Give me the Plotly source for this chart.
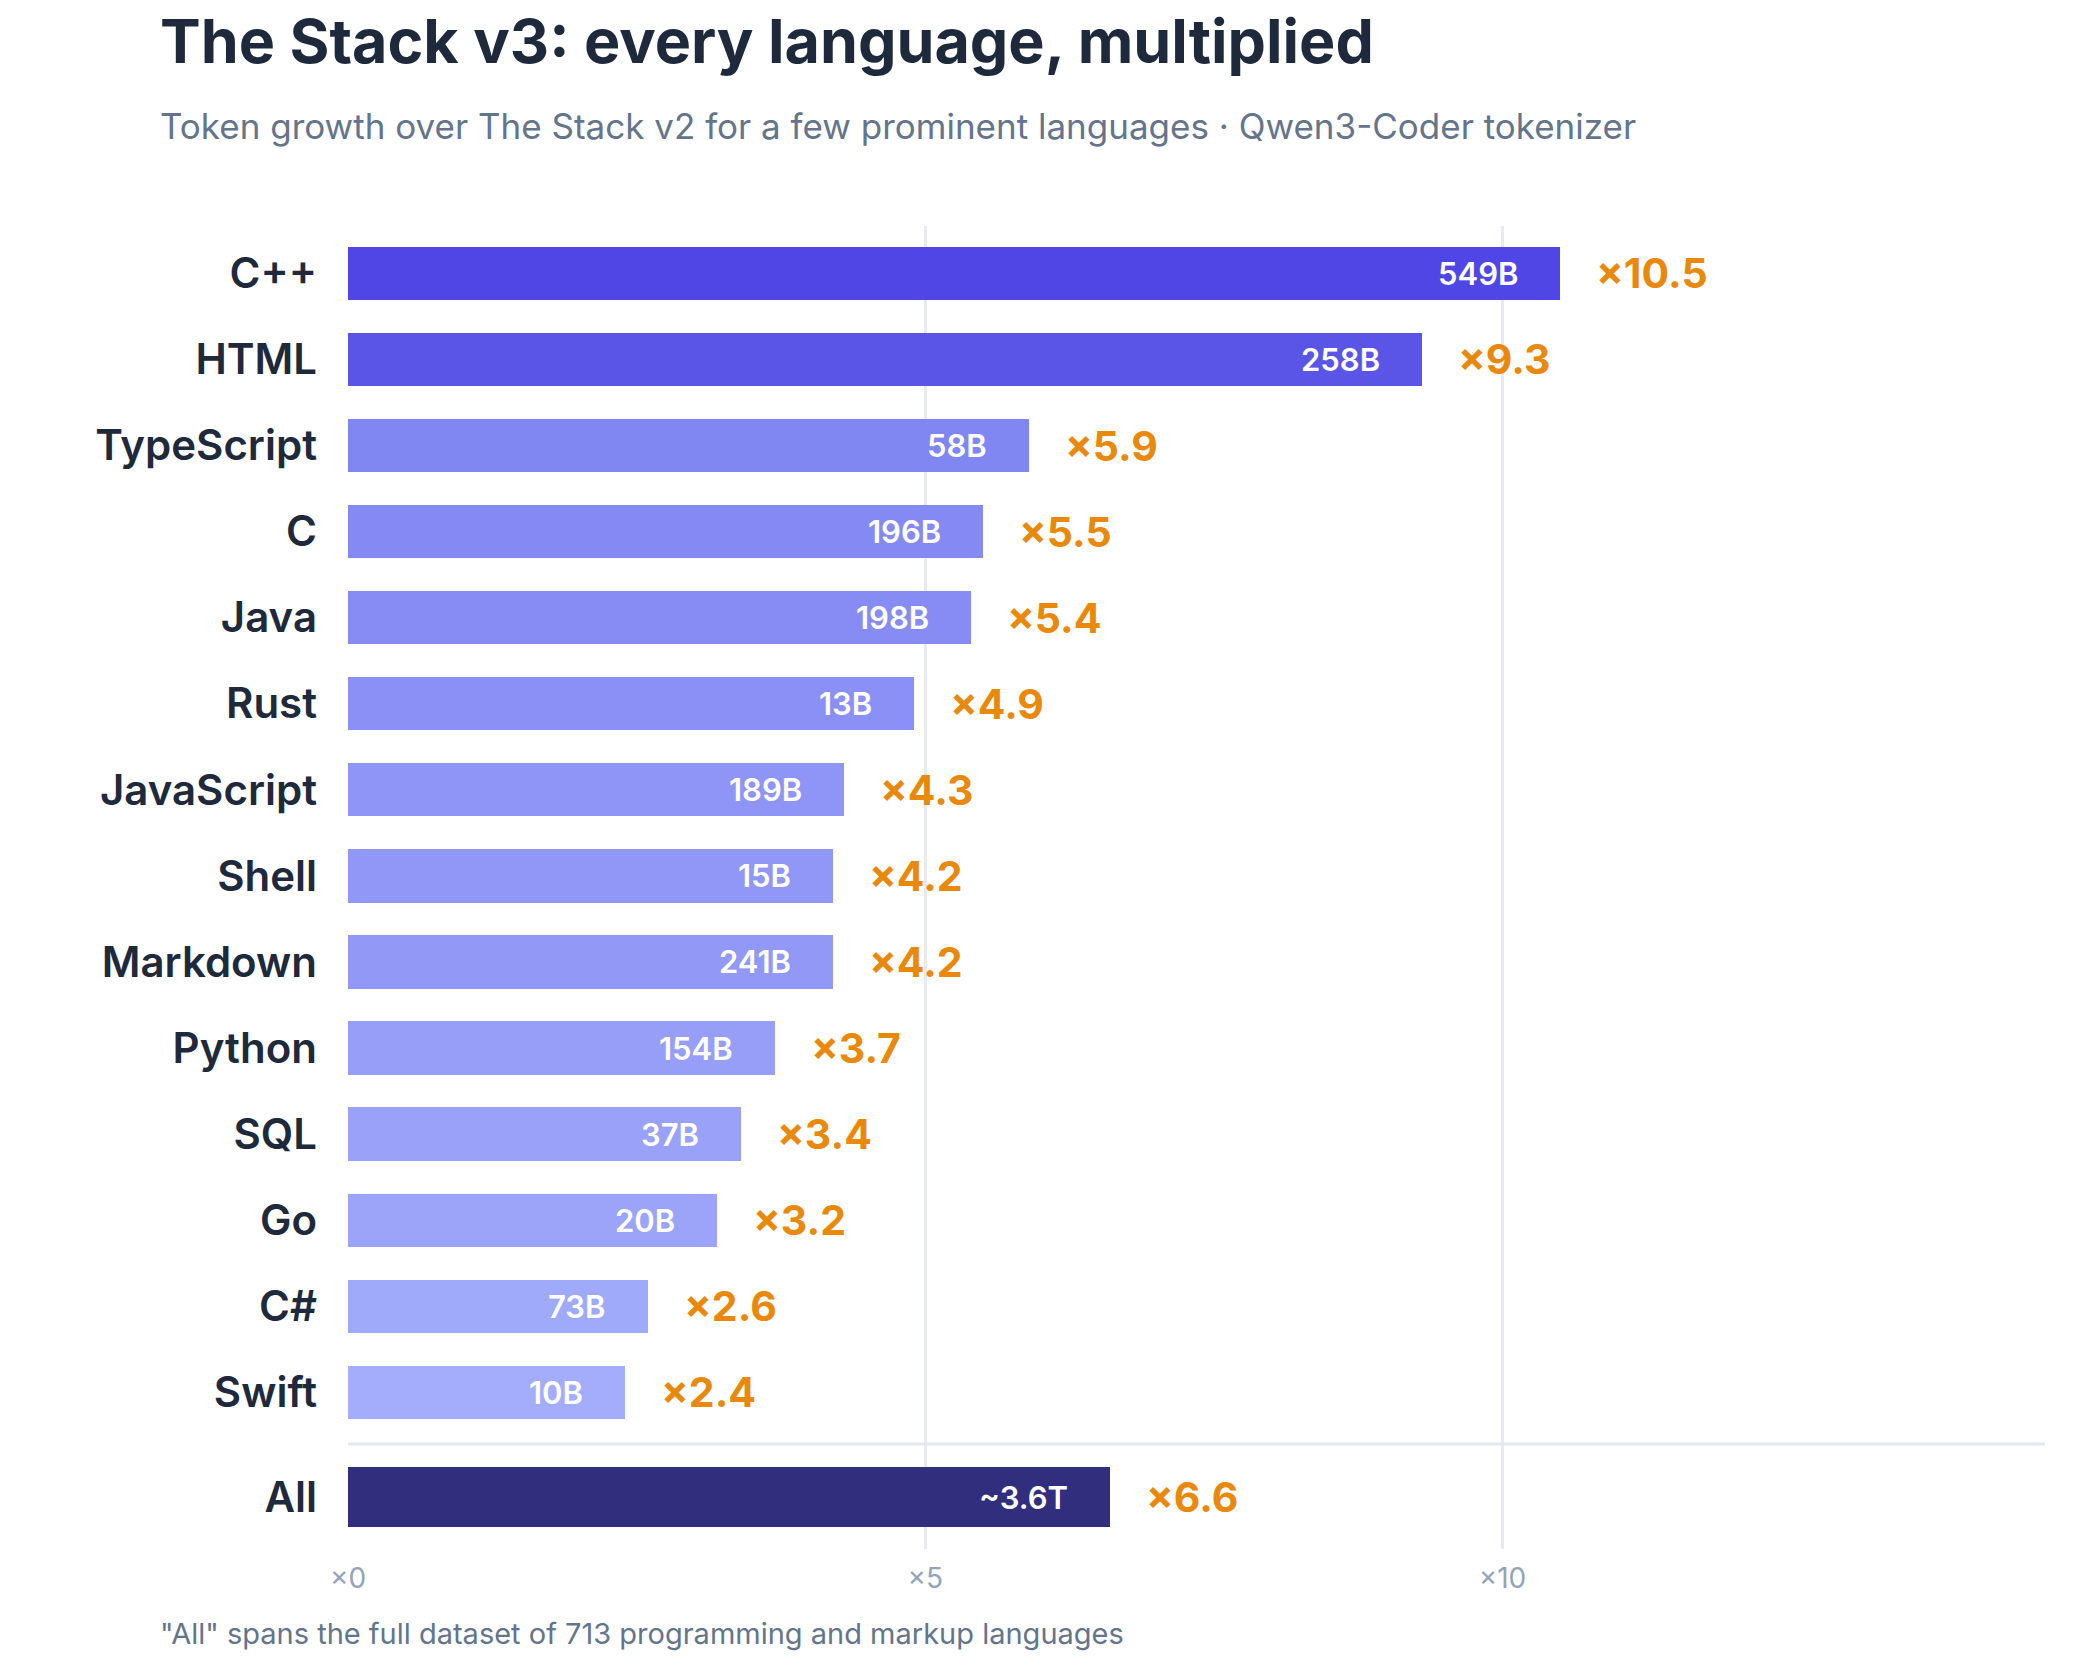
import plotly.graph_objects as go

# Data
languages = ["C++", "HTML", "TypeScript", "C", "Java", "Rust", "JavaScript", "Shell",
             "Markdown", "Python", "SQL", "Go", "C#", "Swift"]
growth = [10.5, 9.3, 5.9, 5.5, 5.4, 4.9, 4.3, 4.2, 4.2, 3.7, 3.4, 3.2, 2.6, 2.4]
tokens = ["549B", "258B", "58B", "196B", "198B", "13B", "189B", "15B", "241B",
          "154B", "37B", "20B", "73B", "10B"]
all_label = "All"
all_growth = 6.6
all_tokens = "~3.6T"
tick_vals = [0, 5, 10]
tick_text = ["×0", "×5", "×10"]

bar_colors = ["#4f46e5", "#5b55e7", "#8087f2", "#8589f3", "#878cf4", "#8a90f5", "#8e95f6",
              "#9097f6", "#9198f6", "#979ef7", "#99a1f8", "#9ba4f9", "#a0aafa", "#a3adfb"]
ALL_COLOR = "#312e7e"
ORANGE = "#e8890c"
DARK = "#1e293b"
MUTED = "#64748b"
FONT = "Inter"

y_pos = list(range(len(languages)))
all_pos = 14.22

fig = go.Figure()
fig.add_trace(go.Bar(x=growth, y=y_pos, orientation="h", width=0.62,
                     marker=dict(color=bar_colors, line=dict(width=0)),
                     hoverinfo="skip"))
fig.add_trace(go.Bar(x=[all_growth], y=[all_pos], orientation="h", width=0.7,
                     marker=dict(color=ALL_COLOR, line=dict(width=0)),
                     hoverinfo="skip"))

annotations = []
for yv, g, t in list(zip(y_pos, growth, tokens)) + [(all_pos, all_growth, all_tokens)]:
    annotations.append(dict(x=g, y=yv, text=t, showarrow=False, xanchor="right", xshift=-40,
                            font=dict(family=FONT, size=31, color="white", weight=600)))
    annotations.append(dict(x=g, y=yv, text=f"<b>×{g}</b>", showarrow=False, xanchor="left",
                            xshift=34, font=dict(family=FONT, size=41, color=ORANGE)))

# title, subtitle, footnote
annotations.append(dict(xref="paper", yref="paper", x=-190 / 1697, y=1, yshift=185,
                        xanchor="left", yanchor="middle", showarrow=False,
                        text="<b>The Stack v3: every language, multiplied</b>",
                        font=dict(family=FONT, size=61, color=DARK)))
annotations.append(dict(xref="paper", yref="paper", x=-190 / 1697, y=1, yshift=100,
                        xanchor="left", yanchor="middle", showarrow=False,
                        text="Token growth over The Stack v2 for a few prominent languages · Qwen3-Coder tokenizer",
                        font=dict(family=FONT, size=35, color=MUTED)))
annotations.append(dict(xref="paper", yref="paper", x=-190 / 1697, y=0, yshift=-84,
                        xanchor="left", yanchor="middle", showarrow=False,
                        text='"All" spans the full dataset of 713 programming and markup languages',
                        font=dict(family=FONT, size=29, color=MUTED)))

fig.add_shape(type="line", xref="x", yref="y", x0=0, x1=14.7, y0=13.6, y1=13.6,
              line=dict(color="#e2e8f0", width=3))

fig.update_layout(
    width=2100, height=1680,
    paper_bgcolor="white", plot_bgcolor="white",
    showlegend=False, bargap=0,
    margin=dict(l=340, r=63, t=218, b=139),
    xaxis=dict(range=[0, 14.7], tickvals=tick_vals, ticktext=tick_text,
               showgrid=True, gridcolor="#e8eaf0", gridwidth=3, zeroline=False,
               showline=False, tickfont=dict(family=FONT, size=28, color="#94a3b8"),
               ticklabelstandoff=10),
    yaxis=dict(range=[14.82, -0.55], tickvals=y_pos + [all_pos],
               ticktext=languages + [all_label],
               showgrid=False, zeroline=False, ticklabelstandoff=30,
               tickfont=dict(family=FONT, size=42, color=DARK, weight=600)),
    annotations=annotations,
)

fig.write_html("out.html")
